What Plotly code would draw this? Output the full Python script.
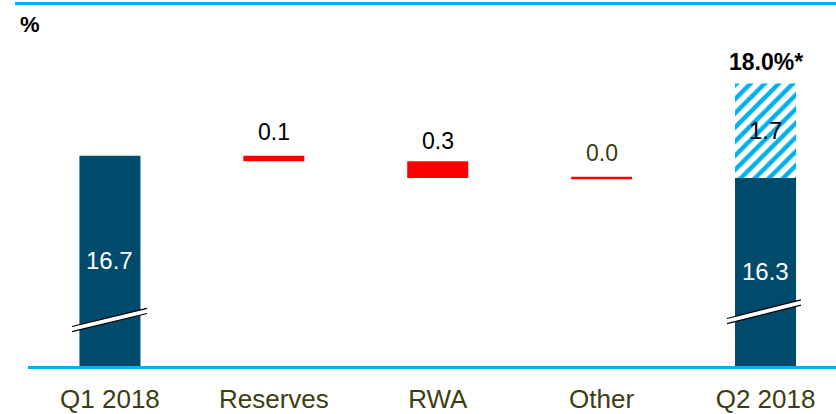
import plotly.graph_objects as go

# ---- data ----
categories = ["Q1 2018", "Reserves", "RWA", "Other", "Q2 2018"]
start_value = 16.7
changes = [-0.1, -0.3, 0.0]          # Reserves, RWA, Other
end_value = 16.3
add_on = 1.7                          # hatched segment on Q2
total_label = "18.0%*"
change_labels = ["0.1", "0.3", "0.0"]

# ---- styles ----
DARK = "#004B6C"
RED = "#FF0000"
CYAN = "#00B0F0"
OLIVE = "#3D3D12"
FONT = "Liberation Sans, Arial, sans-serif"

# layout geometry
W, H = 836, 414
ML, MR, MT, MB = 28, 0, 0, 45
PW, PH = W - ML - MR, H - MT - MB
Y_MIN, Y_MAX = 12.914, 19.504
BAR_W = 0.3725

fig = go.Figure()

# totals
fig.add_trace(go.Bar(x=[categories[0], categories[4]], y=[start_value, end_value],
                     width=BAR_W, marker=dict(color=DARK, line=dict(width=0)),
                     hoverinfo="skip", showlegend=False))

# changes (running waterfall)
running = start_value
bar_x, bar_base, bar_y, zero_x, zero_y, tops = [], [], [], [], [], []
for cat, ch in zip(categories[1:4], changes):
    new = running + ch
    tops.append(max(running, new))
    if ch != 0:
        bar_x.append(cat)
        bar_base.append(new)
        bar_y.append(abs(ch))
    else:
        zero_x.append(cat)
        zero_y.append(new)
    running = new

fig.add_trace(go.Bar(x=bar_x, y=bar_y, base=bar_base, width=BAR_W,
                     marker=dict(color=RED, line=dict(width=0)),
                     hoverinfo="skip", showlegend=False))
fig.add_trace(go.Scatter(x=zero_x, y=zero_y, mode="markers",
                         marker=dict(symbol="line-ew-open", size=43.5, color=RED,
                                     line=dict(color=RED, width=2.5)),
                         hoverinfo="skip", showlegend=False))

# hatched add-on
fig.add_trace(go.Bar(x=[categories[4]], y=[add_on], base=[end_value], width=BAR_W,
                     marker=dict(color="white", line=dict(width=0),
                                 pattern=dict(shape="/", fgcolor=CYAN, bgcolor="white",
                                              size=10, solidity=0.45, fillmode="replace")),
                     hoverinfo="skip", showlegend=False))

ann = []
# values inside dark bars (centre of visible part)
ann.append(dict(x=categories[0], y=(Y_MIN + start_value) / 2, text=f"{start_value:.1f}",
                showarrow=False, font=dict(color="white", size=24, family=FONT)))
ann.append(dict(x=categories[4], y=(Y_MIN + end_value) / 2, text=f"{end_value:.1f}",
                showarrow=False, font=dict(color="white", size=24, family=FONT)))
ann.append(dict(x=categories[4], y=end_value + add_on / 2, text=f"{add_on:.1f}",
                showarrow=False, font=dict(color="black", size=24, family=FONT)))
ann.append(dict(x=categories[4], y=end_value + add_on, text=f"<b>{total_label}</b>",
                showarrow=False, yshift=22, font=dict(color="black", size=23, family=FONT)))
for cat, top, lab, col, ys in zip(categories[1:4], tops, change_labels,
                                  ["black", "black", OLIVE], [24, 20, 25]):
    ann.append(dict(x=cat, y=top, text=lab, showarrow=False, yshift=ys,
                    font=dict(color=col, size=23, family=FONT)))
# unit
ann.append(dict(xref="paper", yref="paper", x=(29.5 - ML) / PW, y=(PH - 24.5) / PH,
                text="<b>%</b>", showarrow=False, xanchor="center", yanchor="middle",
                font=dict(color="black", size=22, family=FONT)))


def px(xp, yp):
    return (xp - ML) / PW, (MT + PH - yp) / PH


shapes = []
# top rule
x0, y0 = px(15, 3.5)
shapes.append(dict(type="line", xref="paper", yref="paper", x0=x0, x1=1, y0=y0, y1=y0,
                   line=dict(color=CYAN, width=3)))
# axis break marks
for (lx, ly, rx, ry) in [(72, 331.8, 147, 313.5), (727, 323.7, 801, 305.0)]:
    a0, b0 = px(lx, ly)
    a1, b1 = px(rx, ry)
    shapes.append(dict(type="line", xref="paper", yref="paper", x0=a0, y0=b0, x1=a1, y1=b1,
                       line=dict(color="white", width=5)))
    for off in (-2.6, 2.6):
        a0, b0 = px(lx, ly + off)
        a1, b1 = px(rx, ry + off)
        shapes.append(dict(type="line", xref="paper", yref="paper", x0=a0, y0=b0, x1=a1, y1=b1,
                           line=dict(color="black", width=1.2)))

fig.update_layout(
    width=W, height=H, margin=dict(l=ML, r=MR, t=MT, b=MB),
    paper_bgcolor="white", plot_bgcolor="white", barmode="overlay",
    annotations=ann, shapes=shapes, showlegend=False,
    xaxis=dict(type="category", categoryorder="array", categoryarray=categories,
               range=[-0.5, 4.43], showgrid=False, zeroline=False,
               showline=True, linecolor=CYAN, linewidth=3, ticks="",
               ticklabelstandoff=8,
               tickfont=dict(color=OLIVE, size=26, family=FONT)),
    yaxis=dict(range=[Y_MIN, Y_MAX], visible=False, showgrid=False, zeroline=False),
    font=dict(family=FONT),
)

fig.write_html("out.html", config={"displayModeBar": False})
